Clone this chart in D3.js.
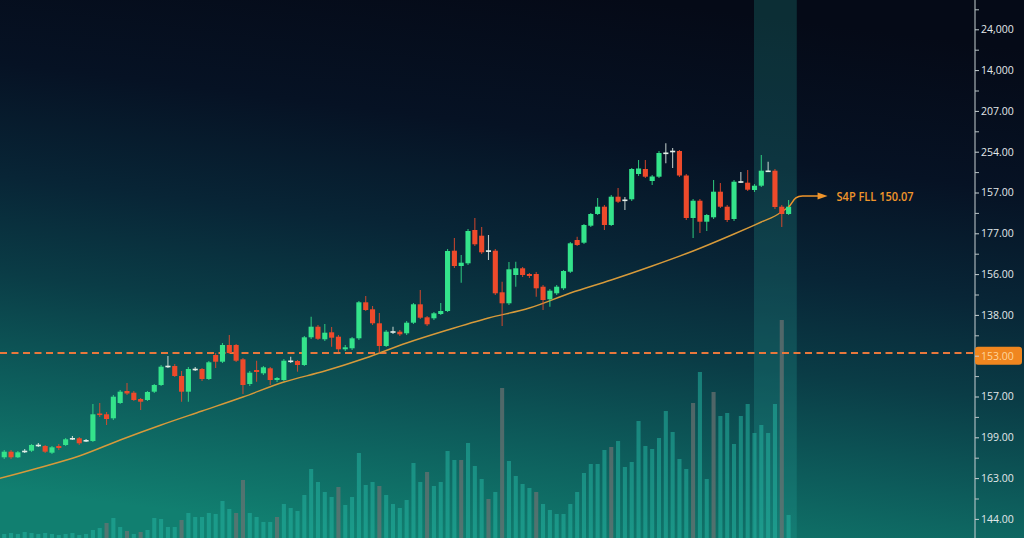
<!DOCTYPE html>
<html><head><meta charset="utf-8">
<script src="https://cdn.jsdelivr.net/npm/d3@7"></script>
<style>html,body{margin:0;padding:0;background:#050a17;overflow:hidden}</style>
</head><body><svg id="c" width="1024" height="538"></svg>
<script>
// ---------- data ----------
const opens = [
 179,180.7,186.3,180.7,186.5,187.3,192.5,192,185.3,192,
 193,199.2,199.7,197,197,224.5,223.7,219.7,235,247,
 245.3,239,238,246.3,253,271.5,272,262,246.3,268.5,
 269,259,283,276.3,293,293,278.7,254,268,264.7,
 269.7,258,258,276.7,277,273,300.7,311.3,298.7,305.7,
 301.3,288.7,289.7,299.7,335.7,328.7,314.7,292,306,306.3,
 304.7,315.3,333.7,320.7,319.7,324,327,387.3,372,374.7,
 408,402.3,387,387.3,345.7,334.7,363,369.7,364,364,
 351.3,338.7,344.7,349.7,366.3,398,395.3,412.3,424,431.3,
 413,441.3,437.7,438.7,464,469,457,461.3,484.7,486.5,
 487,462.5,420,437.3,416.3,420.7,446.3,431.3,419,456,
 455.3,448,452.3,466.8,467.3,431.3,424];
const closes = [
 180,186.3,180.7,185.7,187.3,193,193.3,186.3,190.7,190,
 198.7,200,194.7,198,223.7,223,219,241.3,246.3,244.5,
 238,236.3,246,253,271.3,272.3,262,246.3,269,269.3,
 259,275.7,276.3,293,285,277.3,253,265.3,266,270.7,
 258,260,277.3,277.5,273,300.7,311.3,299.2,305.3,300.3,
 288.7,290.7,299.7,335.7,328,314.7,292,306.3,306.8,303.7,
 315.3,333.7,320.3,313.7,324.7,327,387,372,375.3,407,
 393.7,385.7,387.7,344.7,334.7,368.7,369.7,363,362,349.7,
 338,347.3,351.3,367,394.7,393,413,424,431.3,413,
 441.3,436.3,438.5,469,469.5,461.3,461.5,485,485.5,487.3,
 462.5,420,437.3,416.3,423,446.3,431.3,418,456.3,456.8,
 448.3,452.3,467.3,467.5,431,424,431.3];
const highs = [
 182,188,188,187,189,194,195,193,192,194,
 200,202,201,199,234,235,226,243,248,255,
 247,240,247,254,273,282,274,267,271,271,
 270,277,285,295,303,294,280,267,277.3,272,
 271,261,279,281.3,278,302,321.3,313,314,311,
 303,293,301,337,342,332,325,308,311.3,308,
 317,335,348,322,326,335,389,400,383,409,
 420,411,403,389,356.3,376,376.3,371,365,366,
 353,349,353,368,396,401.3,414,425,440,433,
 443,450,441,470,478,478,463,487,494.7,490,
 488,464,439,439,424,458,455,433,458,466,
 468,454,483,476.3,469,433,438];
const lows = [
 176,179,179,180,185,186,191,185,184,188,
 192,198,193,196,196,221,213,218,234,243,
 237,228,237,245,252,270,261,236.3,236.3,267,
 257,258,270,275,284,276,244,252,256.3,263,
 253,256,257,275,266.3,272,299,298,297,291.3,
 286,287,288,298,327,313,285,291,304,302,
 303,314,319,312,318,323,326,370,355.3,373,
 392,384,378,343,312,333,351.3,361,360,341.3,
 328,331.3,343,348,365,392,394,411,423,408,
 412,435,428,437,462,460,453,460,474.7,470,
 461,418,400,405,407,419,430,416,417,455,
 447,446,451,466,429,411,423];
const volumes = [
 3,4,5,4,6,5,4,5,4,3,
 4,5,3,4,8,10,15,20,11,7,
 4,6,8,20,19,11,11,18,25,21,
 21,25,24,37,29,25,58,25,21,16,
 16,21,34,30,27,43,69,56,46,41,
 51,33,41,85,53,56,52,43,34,30,
 38,75,56,66,52,56,87,78,78,95,
 72,59,39,46,150,77,62,54,50,46,
 34,28,24,24,34,46,65,74,74,88,
 91,97,71,76,117,92,89,100,127,106,
 79,69,135,166,59,146,122,125,94,122,
 134,105,113,105,134,218,23];
const greyVolumeIdx = [16,19,21,27,35,36,41,50,56,63,68,72,74,79,90,102,105,115];
const maIndex  = [0,6,12,18,24,30,36,42,48,54,60,66,72,78,84,90,96,102,108,112,114,116];
const maValues = [159,170,182,198,213,227,241,256,267,280,295,308,320,330,345,358,372,387,404,416,422,431];
const tickValues = [608.7,567.9,527.1,486.3,445.5,404.7,363.9,323.1,282.3,241.5,200.7,159.9,119.1];
const tickLabels = ["24,000","14,000","207.00","254.00","157.00","177.00","156.00","138.00","153.00","157.00","199.00","163.00","144.00"];
const minorTickValues = [628.7,588.3,547.5,506.7,465.9,425.1,384.3,343.5,302.7,261.9,221.1,180.3,139.5];
const markedLevel = 285;          // dashed horizontal level
const markedTickIndex = 8;        // "153.00" highlighted label
const highlightRange = [111,116]; // shaded candles
const annotationText = "S4P FLL 150.07";

// ---------- layout ----------
const W = 1024, H = 538, axisX = 975;
const svg = d3.select("#c");
const n = opens.length;
const x = d3.scaleBand().domain(d3.range(n)).range([-6, 792]).paddingInner(0.25).paddingOuter(0.125);
const y = d3.scaleLinear().domain([100, 638]).range([H, 0]);
const yv = d3.scaleLinear().domain([0, 250]).range([H, 288]);
const cx = i => x(i) + x.bandwidth() / 2;

const defs = svg.append("defs");
const g = defs.append("linearGradient").attr("id","bg").attr("x1","0.62").attr("y1","0").attr("x2","0.38").attr("y2","1");
[[0,"#050a17"],[0.25,"#061224"],[0.45,"#082536"],[0.62,"#0a3c46"],[0.8,"#0d5c5b"],[1,"#117f70"]]
  .forEach(([o,c]) => g.append("stop").attr("offset", o).attr("stop-color", c));

svg.append("rect").attr("width", W).attr("height", H).attr("fill", "url(#bg)");

// highlight band
const hx0 = cx(highlightRange[0]) - 0.5;
const hx1 = cx(highlightRange[1]) + x.step() * 1.2;
svg.append("rect").attr("x", hx0).attr("y", 0).attr("width", hx1 - hx0).attr("height", H)
  .attr("fill", "#2ab3a5").attr("opacity", 0.22);

// volume bars
const greySet = new Set(greyVolumeIdx);
const vw = x.bandwidth() * 0.8;
svg.append("g").selectAll("rect").data(volumes).join("rect")
  .attr("x", (d,i) => cx(i) - vw/2)
  .attr("y", d => yv(d))
  .attr("width", vw)
  .attr("height", d => H - yv(d))
  .attr("fill", (d,i) => greySet.has(i) ? "#6e7272" : "#25b3a0")
  .attr("opacity", (d,i) => greySet.has(i) ? 0.7 : 0.55);

// dashed level
svg.append("line").attr("x1", 0).attr("x2", axisX).attr("y1", y(markedLevel)).attr("y2", y(markedLevel))
  .attr("stroke", "#e8783c").attr("stroke-width", 2.2).attr("stroke-dasharray", "7,4.5");

// moving average
const maLine = d3.line().x(d => cx(d[0])).y(d => y(d[1])).curve(d3.curveMonotoneX);
svg.append("path").datum(maIndex.map((d,i) => [d, maValues[i]]))
  .attr("d", maLine).attr("fill", "none").attr("stroke", "#d79a3a").attr("stroke-width", 1.4);

// candles
const idx = d3.range(n);
const colorOf = i => Math.abs(closes[i] - opens[i]) < 1.2 ? "#e4efe8" : (closes[i] >= opens[i] ? "#34e38b" : "#ee4a2b");
const cg = svg.append("g");
cg.selectAll("line").data(idx).join("line")
  .attr("x1", cx).attr("x2", cx)
  .attr("y1", i => y(highs[i])).attr("y2", i => y(lows[i]))
  .attr("stroke", colorOf).attr("stroke-width", 1.1).attr("opacity", 0.8);
cg.selectAll("rect").data(idx).join("rect")
  .attr("x", i => x(i))
  .attr("y", i => y(Math.max(opens[i], closes[i])))
  .attr("width", x.bandwidth())
  .attr("height", i => Math.max(1.6, Math.abs(y(opens[i]) - y(closes[i]))))
  .attr("fill", colorOf);

// annotation
const lastI = maIndex[maIndex.length - 1];
const ax0 = cx(lastI), ay0 = y(maValues[maValues.length - 1]);
const ay = ay0 - 11;
svg.append("path")
  .attr("d", `M${ax0},${ay0} C${ax0+5},${ay0-5} ${ax0+5},${ay} ${ax0+14},${ay} L${ax0+30},${ay}`)
  .attr("fill", "none").attr("stroke", "#f0952b").attr("stroke-width", 1.5);
svg.append("path")
  .attr("d", `M${ax0+29},${ay-3.5} L${ax0+39},${ay} L${ax0+29},${ay+3.5} Z`)
  .attr("fill", "#f0952b");
svg.append("text").attr("x", ax0 + 48).attr("y", ay + 5)
  .attr("font-family", "'Open Sans', sans-serif").attr("font-weight", 600).attr("font-size", 13)
  .attr("textLength", 77).attr("lengthAdjust", "spacingAndGlyphs")
  .attr("fill", "#f0952b").text(annotationText);

// right axis
const axG = svg.append("g").attr("transform", `translate(${axisX},0)`);
axG.append("line").attr("x1", 0).attr("x2", 0).attr("y1", 0).attr("y2", H).attr("stroke", "#c7d0d2").attr("stroke-width", 1);
const minorAxis = d3.axisRight(y).tickValues(minorTickValues).tickFormat("").tickSize(4);
axG.append("g").call(minorAxis).call(s => s.select(".domain").remove())
  .selectAll("line").attr("stroke", "#b8c2c4");
// highlighted label box
const by = y(tickValues[markedTickIndex]);
axG.append("rect").attr("x", 0).attr("y", by - 9).attr("width", 47).attr("height", 18).attr("rx", 3)
  .attr("fill", "#f0861f");
const majorAxis = d3.axisRight(y).tickValues(tickValues).tickFormat((d,i) => tickLabels[i]).tickSize(4).tickPadding(2);
const maj = axG.append("g").call(majorAxis).call(s => s.select(".domain").remove());
maj.selectAll("line").attr("stroke", "#c7d0d2");
maj.selectAll("text").attr("font-family", "'Open Sans', sans-serif").attr("font-size", 10.5)
  .attr("fill", (d,i) => i === markedTickIndex ? "#ffd59a" : "#e2e8ea");
</script></body></html>
